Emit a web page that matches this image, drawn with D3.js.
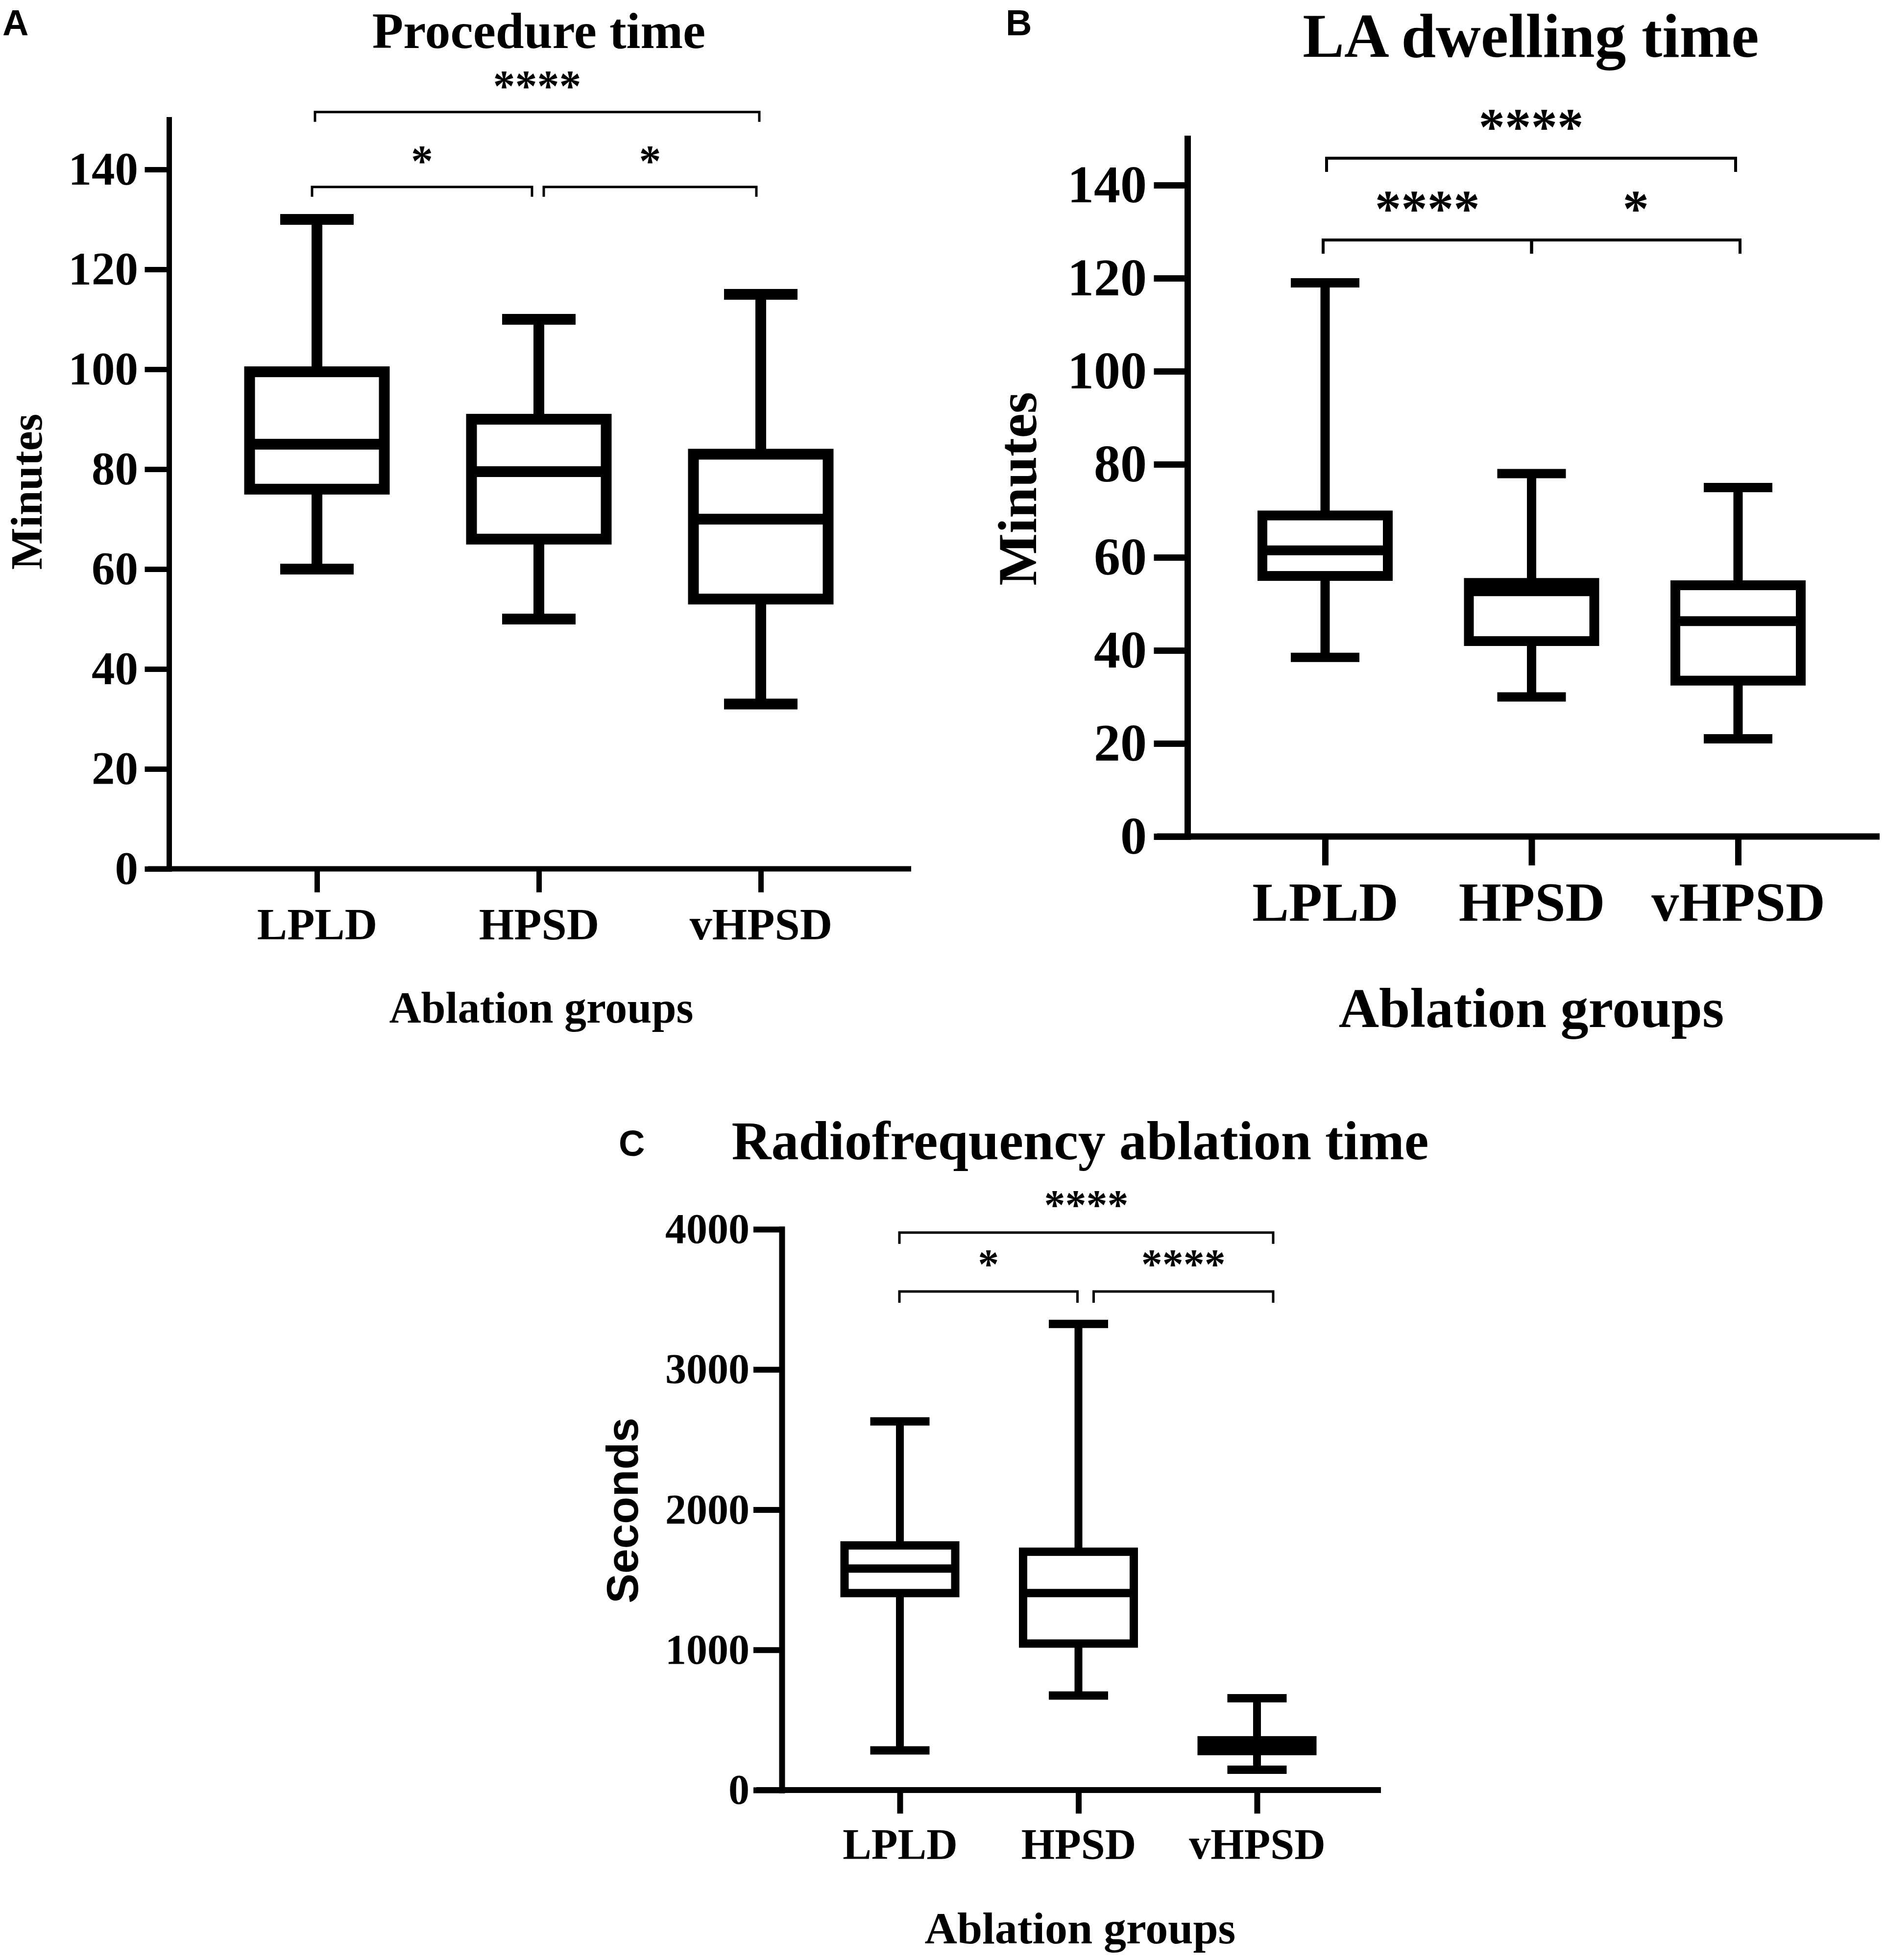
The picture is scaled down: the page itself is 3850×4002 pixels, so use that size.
<!DOCTYPE html>
<html>
<head>
<meta charset="utf-8">
<script src="https://cdn.jsdelivr.net/npm/d3@7"></script>
<style>
  body { margin: 0; background: #fff; }
  svg { display: block; }
</style>
</head>
<body>
<svg id="fig" width="3850" height="4002"></svg>
<script>
const groups = ["LPLD", "HPSD", "vHPSD"];

// box plots: [min, q1, median, q3, max]
const procedureTime = [[60, 76, 85, 99.5, 130], [50, 66, 79.5, 90, 110], [33, 54, 70, 83, 115]];
const dwellingTime = [[38.5, 56, 61.5, 69, 119], [30, 42, 52.7, 54.5, 78], [21, 33.5, 46.3, 54, 75]];
const rfTime = [[283, 1405, 1580, 1745, 2630], [674, 1045, 1405, 1700, 3325], [145, 278, 310, 355, 655]];

const minuteTicks = [0, 20, 40, 60, 80, 100, 120, 140];
const secondTicks = [0, 1000, 2000, 3000, 4000];

// significance brackets: [from group, to group, height (data units), stars]
const procedureSig = [[0, 2, 151.5, "****"], [0, 1, 136.5, "*"], [1, 2, 136.5, "*"]];
const dwellingSig = [[0, 2, 145.8, "****"], [0, 1, 128.2, "****"], [1, 2, 128.2, "*"]];
const rfSig = [[0, 2, 3976, "****"], [0, 1, 3556, "*"], [1, 2, 3556, "****"]];

const serif = '"Liberation Serif", "Times New Roman", serif';
const sans = '"Liberation Sans", Arial, sans-serif';

const panels = [
  {
    letter: "A", letterPos: [5, 72],
    title: "Procedure time", titlePos: [1100, 98], titleSize: 104,
    stats: procedureTime, sig: procedureSig, ticks: minuteTicks, yMax: 150,
    yRange: [1774, 244], xRange: [647, 1553], yAxisX: 345, xAxisExt: [302, 1860],
    axisW: 11, yTick: 44, yPad: 19, xTick: 48, tickSize: 95,
    boxW: 275, capW: 150, boxStroke: 22, whiskerW: 22, capT: 22,
    xLabelY: 1918, xLabelSize: 92,
    xTitlePos: [1105, 2088], xTitleSize: 90,
    yTitle: "Minutes", yTitlePos: [85, 1004], yTitleSize: 91, yTitleFont: serif,
    starSize: 90, starGap: 65, sigStroke: 5, sigTick: 20,
    nudge: [[-4, -3], [-10, -14], [10, -9]]
  },
  {
    letter: "B", letterPos: [2053, 72],
    title: "LA dwelling time", titlePos: [3125, 116], titleSize: 127,
    stats: dwellingTime, sig: dwellingSig, ticks: minuteTicks, yMax: 150,
    yRange: [1708, 283], xRange: [2705, 3548], yAxisX: 2424, xAxisExt: [2362, 3837],
    axisW: 13, yTick: 62, yPad: 21, xTick: 59, tickSize: 108,
    boxW: 256, capW: 140, boxStroke: 20, whiskerW: 19, capT: 19,
    xLabelY: 1880, xLabelSize: 112,
    xTitlePos: [3126, 2097], xTitleSize: 114,
    yTitle: "Minutes", yTitlePos: [2115, 998], yTitleSize: 113, yTitleFont: serif,
    starSize: 107, starGap: 77, sigStroke: 6, sigTick: 28,
    nudge: [[3, -5], [-4, 0], [0, 4]]
  },
  {
    letter: "C", letterPos: [1263, 2360],
    title: "Radiofrequency ablation time", titlePos: [2205, 2367], titleSize: 112,
    stats: rfTime, sig: rfSig, ticks: secondTicks, yMax: 4000,
    yRange: [3655, 2510], xRange: [1837, 2566], yAxisX: 1596, xAxisExt: [1544, 2819],
    axisW: 12, yTick: 52, yPad: 14, xTick: 48, tickSize: 86,
    boxW: 226, capW: 121, boxStroke: 17, whiskerW: 16, capT: 17,
    xLabelY: 3795, xLabelSize: 88,
    xTitlePos: [2205, 3968], xTitleSize: 92,
    yTitle: "Seconds", yTitlePos: [1302, 3084], yTitleSize: 91, yTitleFont: sans,
    starSize: 86, starGap: 68, sigStroke: 5, sigTick: 23,
    nudge: [[-1, 33], [-1, -2], [31, 33]]
  }
];

const svg = d3.select("#fig");

function drawPanel(p) {
  const g = svg.append("g");
  const x = d3.scalePoint().domain(groups).range(p.xRange);
  const y = d3.scaleLinear().domain([0, p.yMax]).range(p.yRange);

  // panel letter and title
  g.append("text")
    .attr("x", p.letterPos[0]).attr("y", p.letterPos[1])
    .style("font-family", sans).style("font-weight", "bold").style("font-size", "74px")
    .text(p.letter);
  g.append("text")
    .attr("x", p.titlePos[0]).attr("y", p.titlePos[1])
    .attr("text-anchor", "middle")
    .style("font-family", serif).style("font-weight", "bold").style("font-size", p.titleSize + "px")
    .text(p.title);

  // y axis
  const yAxis = g.append("g")
    .attr("transform", "translate(" + p.yAxisX + ",0)")
    .call(d3.axisLeft(y).tickValues(p.ticks).tickFormat(d3.format("d"))
      .tickSize(p.yTick).tickPadding(p.yPad).tickSizeOuter(0));
  yAxis.selectAll("path, line")
    .attr("stroke", "#000").attr("stroke-width", p.axisW).attr("stroke-linecap", "square");
  yAxis.selectAll("text")
    .style("font-family", serif).style("font-weight", "bold").style("font-size", p.tickSize + "px")
    .attr("fill", "#000");

  // x axis: line spans beyond the category range, so draw it separately
  g.append("line")
    .attr("x1", p.xAxisExt[0]).attr("x2", p.xAxisExt[1])
    .attr("y1", y(0)).attr("y2", y(0))
    .attr("stroke", "#000").attr("stroke-width", p.axisW);
  const xAxis = g.append("g")
    .attr("transform", "translate(0," + y(0) + ")")
    .call(d3.axisBottom(x).tickSize(p.xTick).tickSizeOuter(0));
  xAxis.select(".domain").remove();
  xAxis.selectAll("line").attr("stroke", "#000").attr("stroke-width", p.axisW);
  xAxis.selectAll("text")
    .attr("y", p.xLabelY - y(0)).attr("dy", null)
    .style("font-family", serif).style("font-weight", "bold").style("font-size", p.xLabelSize + "px")
    .attr("fill", "#000");

  // axis titles
  g.append("text")
    .attr("x", p.xTitlePos[0]).attr("y", p.xTitlePos[1])
    .attr("text-anchor", "middle")
    .style("font-family", serif).style("font-weight", "bold").style("font-size", p.xTitleSize + "px")
    .text("Ablation groups");
  g.append("text")
    .attr("transform", "translate(" + p.yTitlePos[0] + "," + p.yTitlePos[1] + ") rotate(-90)")
    .attr("text-anchor", "middle")
    .style("font-family", p.yTitleFont).style("font-weight", "bold").style("font-size", p.yTitleSize + "px")
    .text(p.yTitle);

  // boxes
  const box = g.selectAll(".box")
    .data(p.stats.map((s, i) => ({ group: groups[i], s: s })))
    .enter().append("g").attr("class", "box");

  box.append("line") // upper whisker
    .attr("x1", d => x(d.group)).attr("x2", d => x(d.group))
    .attr("y1", d => y(d.s[3])).attr("y2", d => y(d.s[4]))
    .attr("stroke", "#000").attr("stroke-width", p.whiskerW);
  box.append("line") // lower whisker
    .attr("x1", d => x(d.group)).attr("x2", d => x(d.group))
    .attr("y1", d => y(d.s[1])).attr("y2", d => y(d.s[0]))
    .attr("stroke", "#000").attr("stroke-width", p.whiskerW);
  [0, 4].forEach(k => {
    box.append("line")
      .attr("x1", d => x(d.group) - p.capW / 2).attr("x2", d => x(d.group) + p.capW / 2)
      .attr("y1", d => y(d.s[k])).attr("y2", d => y(d.s[k]))
      .attr("stroke", "#000").attr("stroke-width", p.capT);
  });
  box.append("rect")
    .attr("x", d => x(d.group) - p.boxW / 2)
    .attr("y", d => y(d.s[3]))
    .attr("width", p.boxW)
    .attr("height", d => y(d.s[1]) - y(d.s[3]))
    .attr("fill", "#fff").attr("stroke", "#000").attr("stroke-width", p.boxStroke);
  box.append("line") // median
    .attr("x1", d => x(d.group) - p.boxW / 2).attr("x2", d => x(d.group) + p.boxW / 2)
    .attr("y1", d => y(d.s[2])).attr("y2", d => y(d.s[2]))
    .attr("stroke", "#000").attr("stroke-width", p.boxStroke);

  // significance brackets
  p.sig.forEach((b, i) => {
    const x1 = x(groups[b[0]]) + p.nudge[i][0];
    const x2 = x(groups[b[1]]) + p.nudge[i][1];
    const yb = y(b[2]);
    g.append("path")
      .attr("d", "M" + x1 + "," + (yb + p.sigTick) + "V" + yb + "H" + x2 + "V" + (yb + p.sigTick))
      .attr("fill", "none").attr("stroke", "#000").attr("stroke-width", p.sigStroke);
    g.append("text")
      .attr("x", (x1 + x2) / 2)
      .attr("y", yb - p.starGap + 0.47 * p.starSize)
      .attr("text-anchor", "middle")
      .style("font-family", serif).style("font-weight", "bold").style("font-size", p.starSize + "px")
      .text(b[3]);
  });
}

panels.forEach(drawPanel);
</script>
</body>
</html>
